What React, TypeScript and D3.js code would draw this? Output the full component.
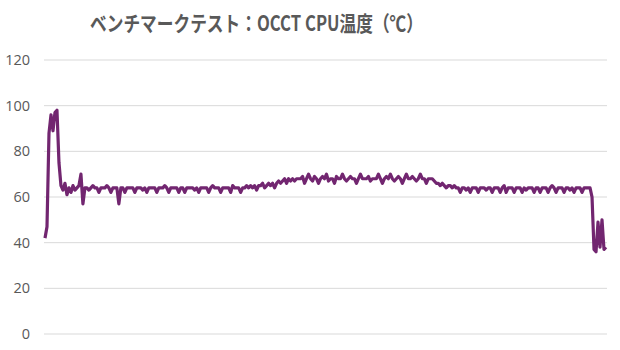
import React from "react";
import * as d3 from "d3";

const TITLE = "ベンチマークテスト：OCCT CPU温度（℃）";
const yTicks = [0, 20, 40, 60, 80, 100, 120];

const startup = [42, 47, 88, 96, 89, 97, 98, 75, 65, 63, 66, 61, 64, 62, 65, 63, 64, 65, 70, 57, 64, 64, 63, 64, 65];
const idle1 = [
  64, 64, 62, 64, 64, 64, 65, 64, 62, 64, 64, 64,
  57, 64, 64, 62, 64, 64, 64, 64, 62, 64,
  64, 64, 63, 64, 62, 64, 64, 64, 64, 62,
  64, 64, 64, 65, 64, 62, 64, 64, 64, 64,
  62, 64, 64, 62, 64, 64, 64, 64, 63, 64,
  62, 64, 64, 64, 64, 62, 64, 65, 64, 64,
  64, 62, 64, 64, 64, 64, 62, 65, 64, 64,
  64, 62, 64, 64, 65, 64,
];
const rise = [65, 64, 65, 63, 65, 65, 66, 64, 65, 66, 65, 66, 64, 66, 67, 66, 67, 68, 66, 68, 67, 68, 67, 68, 68];
const plateau = [
  68, 69, 66, 68, 70, 68, 67, 69, 68, 66,
  68, 69, 68, 70, 67, 68, 68, 66, 69, 68,
  68, 70, 68, 67, 68, 69, 68, 68, 66, 68,
  70, 68, 68, 68, 69, 67, 68, 68, 68, 70,
  68, 66, 68, 69, 68, 70, 68, 67, 68, 69,
  68, 66, 68, 70, 68, 68, 69, 68, 67, 68,
  70, 68, 68, 66, 68,
];
const fall = [68, 68, 67, 66, 66, 65, 66, 65, 64, 65, 65, 64, 65];
const idle2 = [
  64, 64, 62, 64, 64, 63, 64, 62, 64, 64,
  64, 62, 64, 64, 64, 63, 64, 64, 62, 64,
  64, 64, 62, 64, 65, 62, 64, 64, 64, 62,
  64, 64, 64, 62, 64, 63, 64, 64, 64, 62,
  64, 64, 62, 64, 64, 64, 62, 64, 65, 64,
  62, 64, 64, 64, 62, 64, 64, 63, 64, 62,
  64, 64, 64, 62, 64, 64, 64, 64,
];
const ending = [60, 37, 36, 49, 38, 50, 37, 38];

const temps: number[] = [...startup, ...idle1, ...rise, ...plateau, ...fall, ...idle2, ...ending];

export default function App() {
  const W = 620, H = 350;
  const plotLeft = 44, plotRight = 607;
  const x = d3.scaleLinear().domain([0, temps.length - 1]).range([45, 606]);
  const y = d3.scaleLinear().domain([0, 120]).range([334, 60]);
  const line = d3.line<number>().x((_, i) => x(i)).y((d) => y(d));
  return (
    <svg width={W} height={H} style={{ position: "absolute", left: 0, top: 0, background: "#fff" }}>
      <rect width={W} height={H} fill="#fff" />
      <text x={90} y={31} fill="#595959" fontFamily="'Noto Sans CJK JP', sans-serif" fontWeight="bold" fontSize={21} textLength={333} lengthAdjust="spacingAndGlyphs">{TITLE}</text>
      {yTicks.map((t) => (
        <g key={t}>
          <line x1={plotLeft} x2={plotRight} y1={y(t)} y2={y(t)} stroke="#d9d9d9" strokeWidth={1} />
          <text x={30} y={y(t) + 5} textAnchor="end" fill="#595959" fontFamily="'Open Sans', sans-serif" fontSize={14.5}>{t}</text>
        </g>
      ))}
      <path d={line(temps) || ""} fill="none" stroke="#722670" strokeWidth={3.2} strokeLinejoin="round" />
    </svg>
  );
}
